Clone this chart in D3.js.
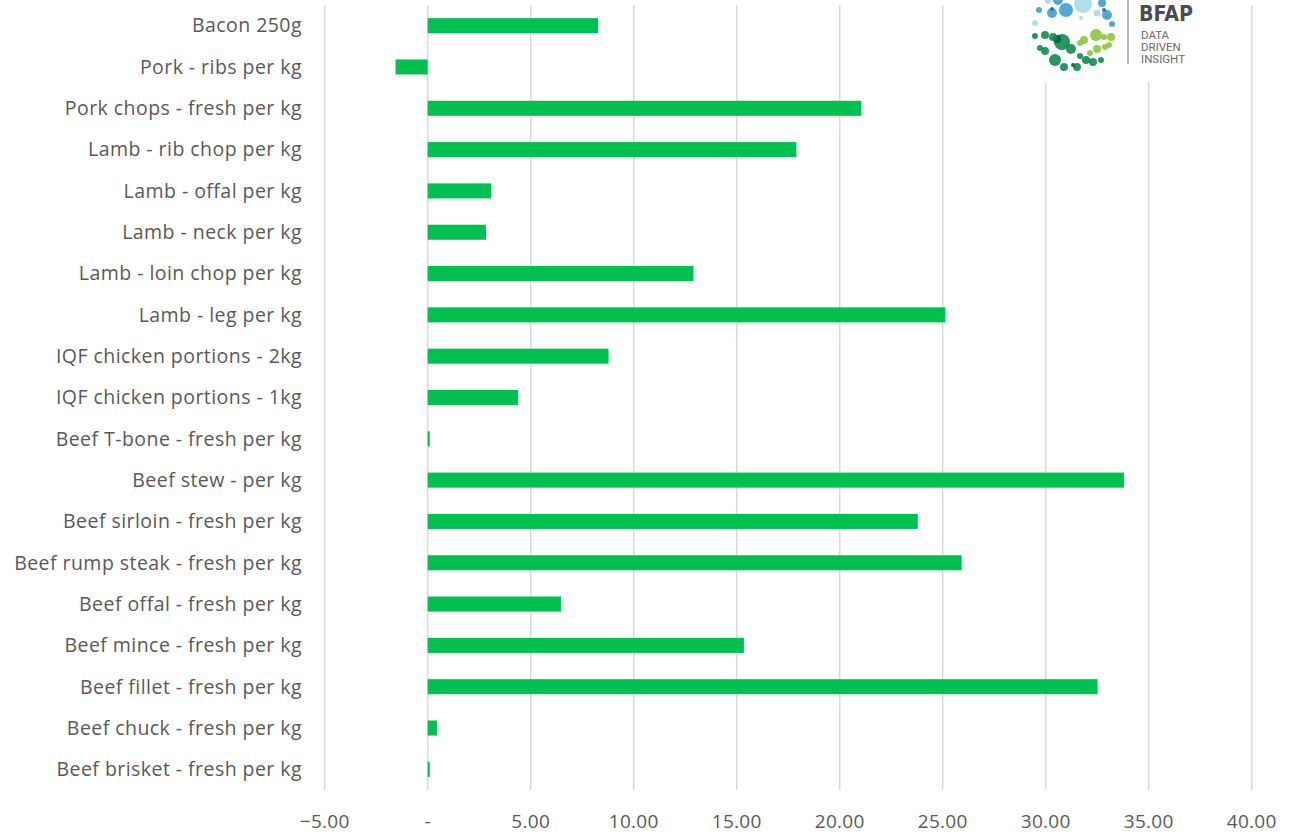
<!DOCTYPE html>
<html>
<head>
<meta charset="utf-8">
<script src="https://cdn.jsdelivr.net/npm/d3@7"></script>
<style>
  html, body { margin: 0; padding: 0; background: #fff; }
  svg { display: block; }
</style>
</head>
<body>
<svg id="chart" width="1293" height="837"></svg>
<script>
const categories = [
  "Bacon 250g",
  "Pork - ribs per kg",
  "Pork chops - fresh per kg",
  "Lamb - rib chop per kg",
  "Lamb - offal per kg",
  "Lamb - neck per kg",
  "Lamb - loin chop per kg",
  "Lamb - leg per kg",
  "IQF chicken portions - 2kg",
  "IQF chicken portions - 1kg",
  "Beef T-bone - fresh per kg",
  "Beef stew - per kg",
  "Beef sirloin - fresh per kg",
  "Beef rump steak - fresh per kg",
  "Beef offal - fresh per kg",
  "Beef mince - fresh per kg",
  "Beef fillet - fresh per kg",
  "Beef chuck - fresh per kg",
  "Beef brisket - fresh per kg"
];
const values = [8.27, -1.56, 21.05, 17.9, 3.09, 2.83, 12.9, 25.13, 8.78, 4.39, 0.1, 33.8, 23.79, 25.92, 6.47, 15.35, 32.52, 0.45, 0.1];
const xTicks = [-5, 0, 5, 10, 15, 20, 25, 30, 35, 40];

// Logo decoration (BFAP mark)
const logoBlue = [
  [1058,0,5,"#3d9fd1"],[1066,10,7,"#3d9fd1"],[1052,13,5,"#3d9fd1"],[1039,10,3,"#3d9fd1"],
  [1102,3,4,"#3d9fd1"],[1107,15,5,"#3d9fd1"],[1112,24,3,"#3d9fd1"],
  [1083,4,9,"#a6dce5"],[1097,13,3.5,"#a6dce5"],[1035,23,3,"#a6dce5"],[1081,18,2,"#a6dce5"],[1048,1,3,"#a6dce5"],
  [1104,10,2,"#1f6e9e"],[1052,9,2,"#1f6e9e"]
];
const logoGreen = [
  [1062,42,8,"#0f8b50"],[1057,39,4,"#075f36"],[1045,35,4,"#0f8b50"],[1035,36,3,"#0f8b50"],[1053,37,4,"#0f8b50"],
  [1040,48,3,"#0f8b50"],[1045,51,4,"#0f8b50"],[1071,49,5,"#0f8b50"],[1055,60,6,"#0f8b50"],[1064,67,4,"#0f8b50"],
  [1077,67,4,"#0f8b50"],[1073,65,2,"#075f36"],[1080,56,3,"#0f8b50"],[1086,60,4,"#0f8b50"],[1093,62,4,"#0f8b50"],[1101,60,3,"#0f8b50"],
  [1096,35,6,"#8cc63e"],[1084,40,4,"#8cc63e"],[1080,43,3,"#8cc63e"],[1111,37,4,"#8cc63e"],[1104,37,3,"#8cc63e"],
  [1097,49,4,"#8cc63e"],[1090,53,3,"#8cc63e"],[1105,47,3,"#8cc63e"],[1109,45,3,"#8cc63e"]
];
const logoWords = ["DATA", "DRIVEN", "INSIGHT"];

const svg = d3.select("#chart");
const font = "'Open Sans', 'Liberation Sans', sans-serif";

const x = d3.scaleLinear().domain([-5, 40]).range([324.7, 1251.7]);
const y = d3.scaleBand().domain(categories).range([5, 790]).paddingInner(0.636).paddingOuter(0.318);

// gridlines
svg.append("g").selectAll("line").data(xTicks).join("line")
  .attr("x1", d => x(d)).attr("x2", d => x(d))
  .attr("y1", 5).attr("y2", 790)
  .attr("stroke", "#d9d9d9").attr("stroke-width", 1.5);

// bars
svg.append("g").selectAll("rect").data(values).join("rect")
  .attr("x", d => Math.min(x(0), x(d)))
  .attr("width", d => Math.abs(x(d) - x(0)))
  .attr("y", (d, i) => y(categories[i]))
  .attr("height", y.bandwidth())
  .attr("fill", "#00c050");

// category labels
svg.append("g").selectAll("text").data(categories).join("text")
  .attr("x", 302)
  .attr("y", d => y(d) + y.bandwidth() / 2)
  .attr("dy", "0.35em")
  .attr("text-anchor", "end")
  .attr("font-family", font)
  .attr("font-size", 19.5)
  .attr("letter-spacing", 0.45)
  .attr("fill", "#595959")
  .text(d => d);

// x axis tick labels
svg.append("g").selectAll("text").data(xTicks).join("text")
  .attr("x", d => x(d))
  .attr("y", 828)
  .attr("text-anchor", "middle")
  .attr("font-family", font)
  .attr("font-size", 19)
  .attr("letter-spacing", 0.3)
  .attr("fill", "#595959")
  .text(d => d === 0 ? "-" : d3.format(".2f")(d));

// logo
const logo = svg.append("g");
logo.append("rect").attr("x", 1026).attr("y", 0).attr("width", 170).attr("height", 82).attr("fill", "#fff");
logo.selectAll("circle.c").data(logoBlue.concat(logoGreen)).join("circle")
  .attr("cx", d => d[0]).attr("cy", d => d[1]).attr("r", d => d[2])
  .attr("fill", d => d[3]).attr("fill-opacity", 0.9);
logo.append("line").attr("x1", 1128).attr("x2", 1128).attr("y1", 0).attr("y2", 64)
  .attr("stroke", "#8a8a8a").attr("stroke-width", 1.2);
logo.append("text").attr("x", 1139).attr("y", 21)
  .attr("font-family", "'DejaVu Sans', sans-serif").attr("font-weight", "bold")
  .attr("font-size", 22).attr("fill", "#4b4b50")
  .attr("textLength", 54).attr("lengthAdjust", "spacingAndGlyphs")
  .text("BFAP");
logo.selectAll("text.w").data(logoWords).join("text")
  .attr("x", 1141).attr("y", (d, i) => 38.5 + i * 12.3)
  .attr("font-family", "Roboto, sans-serif").attr("font-size", 11.5)
  .attr("fill", "#6b6b6b")
  .text(d => d);
</script>
</body>
</html>
